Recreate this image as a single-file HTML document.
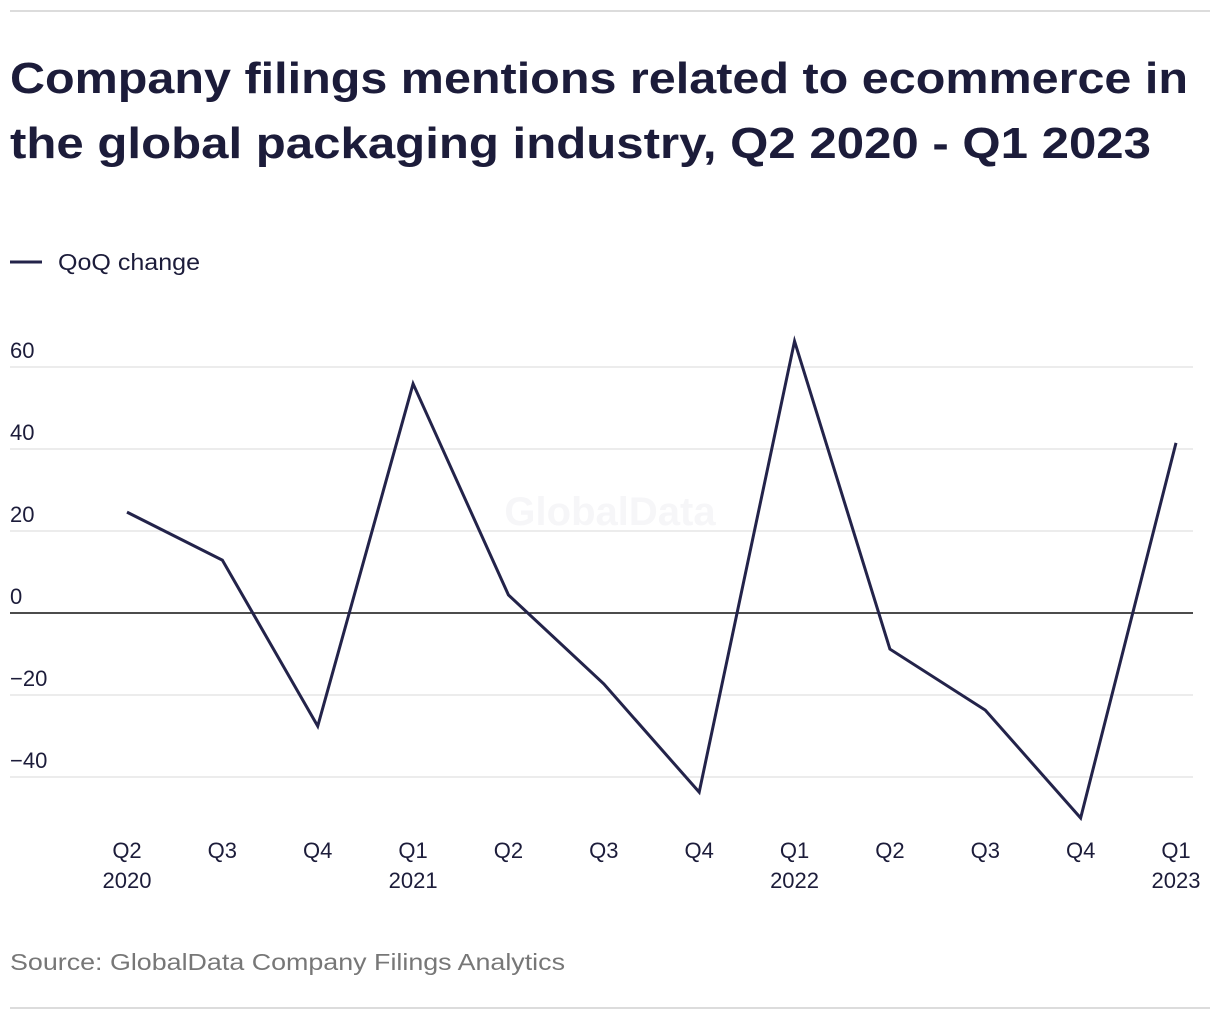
<!DOCTYPE html>
<html><head><meta charset="utf-8"><style>
body{margin:0;background:#fff;width:1220px;height:1020px;overflow:hidden;font-family:"Liberation Sans",sans-serif;color:#1c1c3a}
</style></head><body>
<svg width="1220" height="1020" xmlns="http://www.w3.org/2000/svg">
<line x1="10" y1="11" x2="1210" y2="11" stroke="#d0d0d0" stroke-width="1.5"/>
<text x="10" y="93" font-size="44" font-weight="bold" fill="#1c1c3a" textLength="1178" lengthAdjust="spacingAndGlyphs">Company filings mentions related to ecommerce in</text>
<text x="10" y="158" font-size="44" font-weight="bold" fill="#1c1c3a" textLength="1141" lengthAdjust="spacingAndGlyphs">the global packaging industry, Q2 2020 - Q1 2023</text>
<line x1="10" y1="262" x2="42" y2="262" stroke="#23234a" stroke-width="3"/>
<text x="58" y="270" font-size="23" fill="#1c1c3a" textLength="142" lengthAdjust="spacingAndGlyphs">QoQ change</text>
<text x="610" y="525" font-size="40" font-weight="bold" fill="#f6f6f8" text-anchor="middle">GlobalData</text>
<g id="grid"></g>
<g id="xlabels"></g>
<path id="line" fill="none" stroke="#23234a" stroke-width="3" stroke-linejoin="miter"/>
<text x="10" y="970" font-size="23" fill="#777" textLength="555" lengthAdjust="spacingAndGlyphs">Source: GlobalData Company Filings Analytics</text>
<line x1="10" y1="1008" x2="1210" y2="1008" stroke="#d0d0d0" stroke-width="1.5"/>
</svg>
<script>
const quarters=["Q2","Q3","Q4","Q1","Q2","Q3","Q4","Q1","Q2","Q3","Q4","Q1"];
const years=["2020","","","2021","","","","2022","","","","2023"];
const values=[24.6,12.9,-27.6,55.9,4.4,-17.3,-43.7,66.3,-8.8,-23.7,-50,41.5];
const yTicks=[60,40,20,0,-20,-40];
const yTickLabels=["60","40","20","0","\u221220","\u221240"];
const NS="http://www.w3.org/2000/svg";
const x=i=>127+i*(1176-127)/(values.length-1);
const y=v=>613-v*4.1;
const grid=document.getElementById('grid');
yTicks.forEach((t,i)=>{
 const l=document.createElementNS(NS,'line');
 l.setAttribute('x1',10);l.setAttribute('x2',1193);l.setAttribute('y1',y(t));l.setAttribute('y2',y(t));
 l.setAttribute('stroke',t===0?'#111':'#d8d8d8');l.setAttribute('stroke-width',t===0?1.5:1);
 
 
 grid.appendChild(l);
 const tx=document.createElementNS(NS,'text');
 tx.setAttribute('x',10);tx.setAttribute('y',y(t)-9);tx.setAttribute('font-size','22');tx.setAttribute('fill','#1c1c3a');
 tx.textContent=yTickLabels[i];
 
 
 grid.appendChild(tx);
});
const xl=document.getElementById('xlabels');
quarters.forEach((q,i)=>{
 const t=document.createElementNS(NS,'text');
 t.setAttribute('x',x(i));t.setAttribute('y',858);t.setAttribute('font-size','22');t.setAttribute('text-anchor','middle');t.setAttribute('fill','#1c1c3a');
 t.textContent=q;
 
 
 xl.appendChild(t);
 if(years[i]){
  const t2=document.createElementNS(NS,'text');
  t2.setAttribute('x',x(i));t2.setAttribute('y',888);t2.setAttribute('font-size','22');t2.setAttribute('text-anchor','middle');t2.setAttribute('fill','#1c1c3a');
  t2.textContent=years[i];
  
  
  xl.appendChild(t2);
 }
});
document.getElementById('line').setAttribute('d',values.map((v,i)=>(i?'L':'M')+x(i)+','+y(v)).join(''));
</script>
</body></html>
